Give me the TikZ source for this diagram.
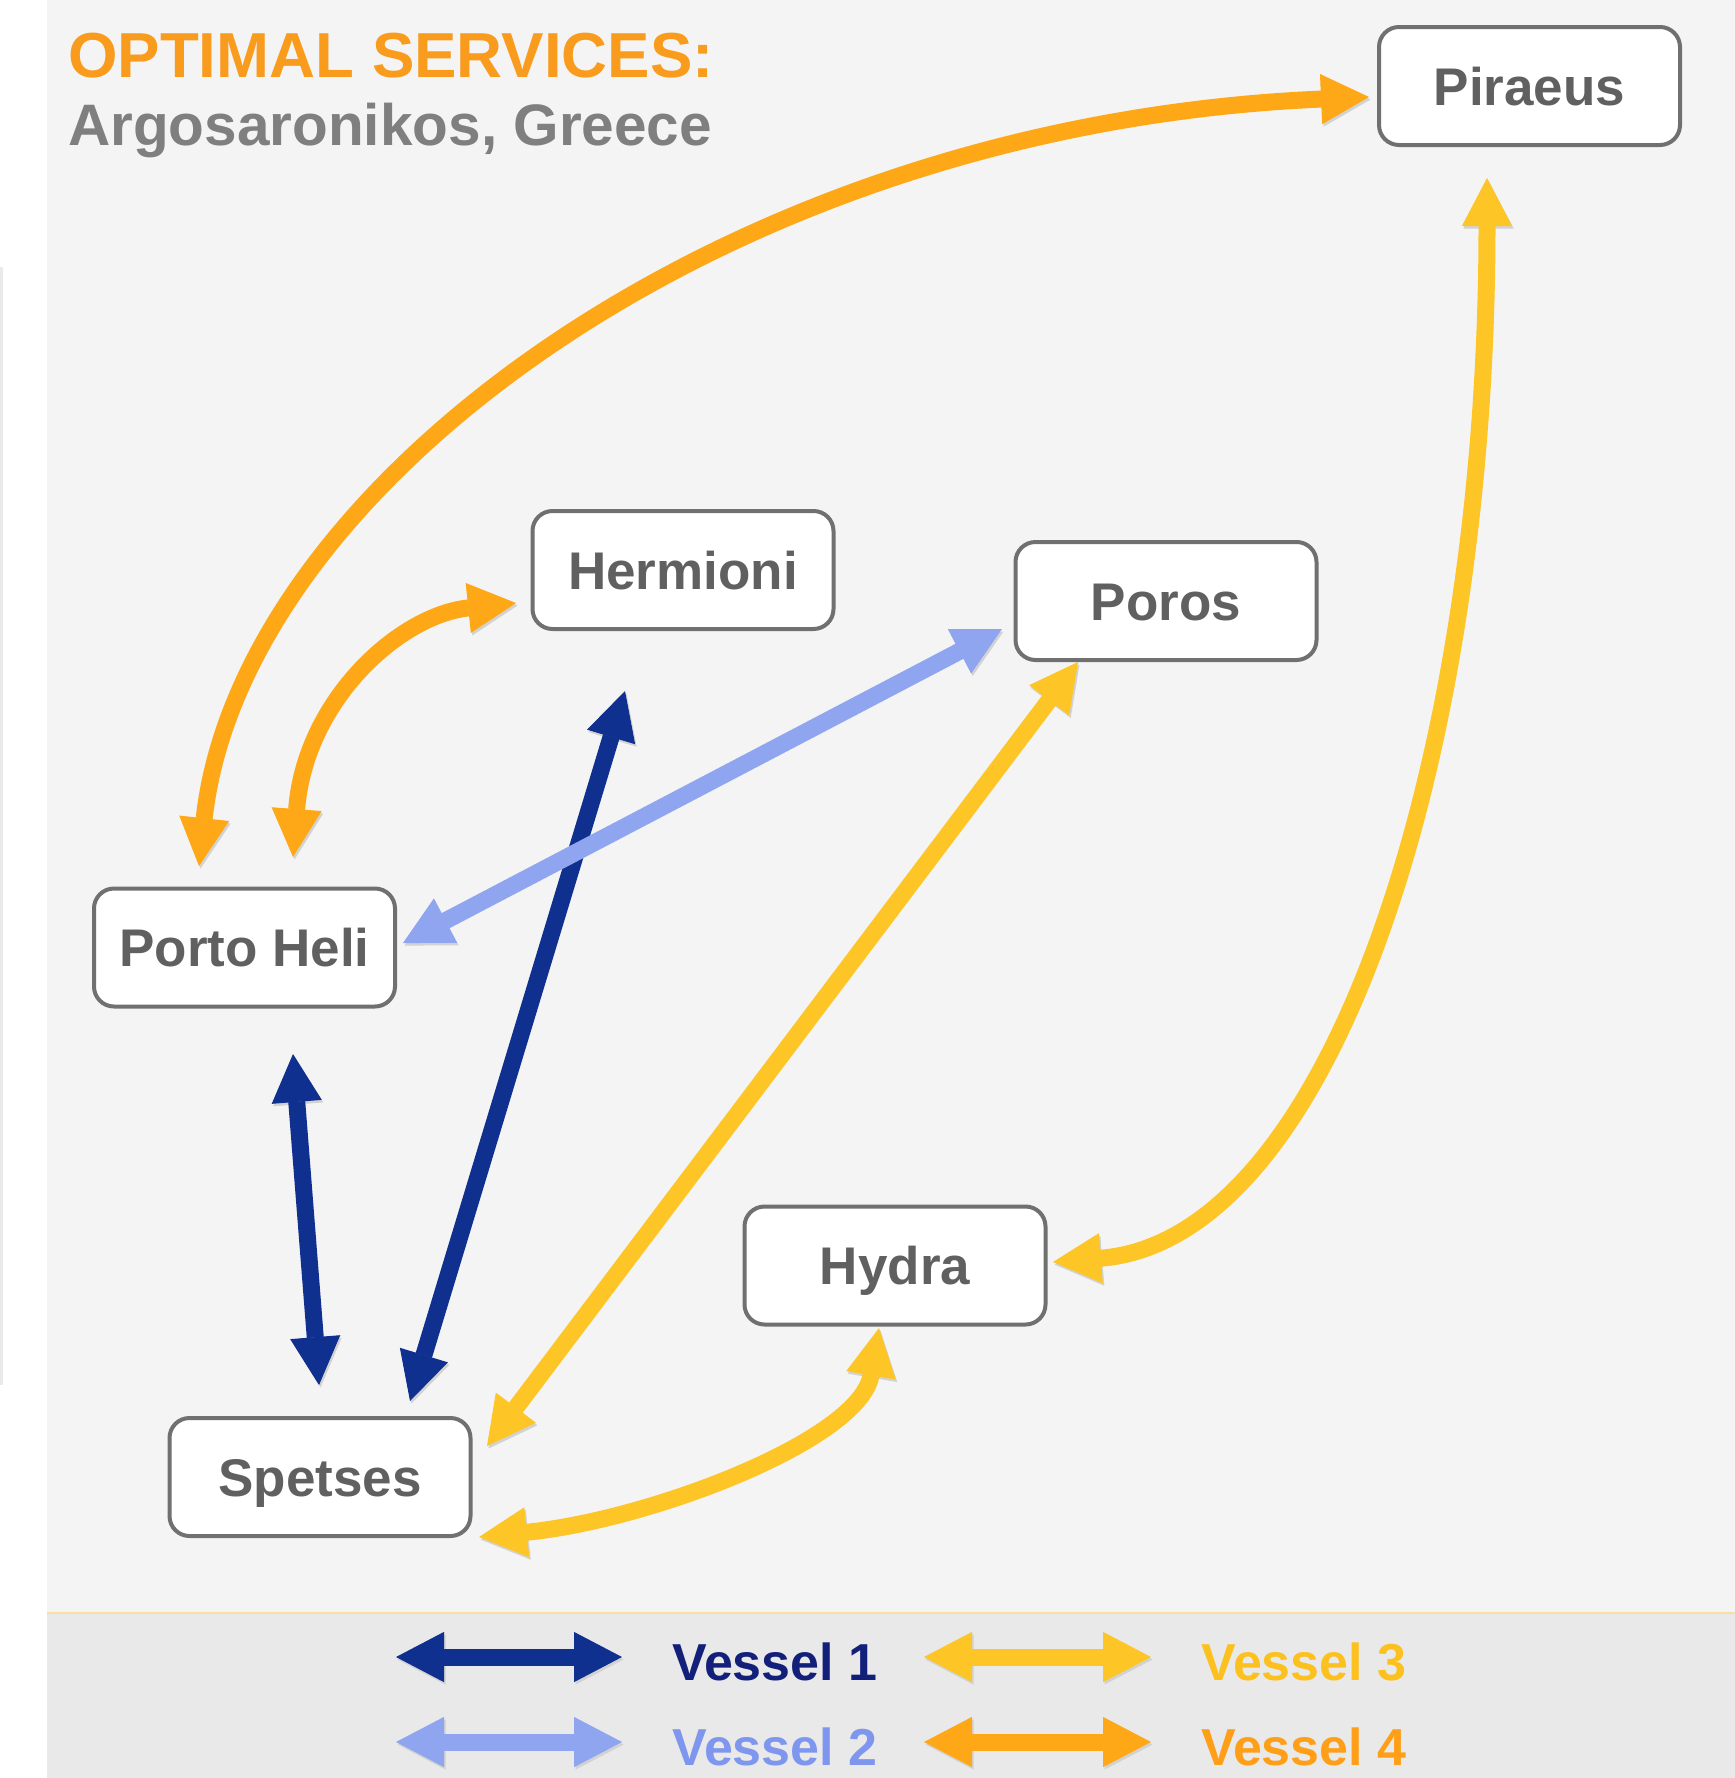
\documentclass[tikz,border=0pt]{standalone}
\usepackage{fontspec}
\setmainfont{Liberation Sans}
\usetikzlibrary{arrows.meta,calc}
\definecolor{bgmain}{HTML}{F4F4F4}
\definecolor{bglegend}{HTML}{E9E9E9}
\definecolor{sepline}{HTML}{FBDFA2}
\definecolor{edgeline}{HTML}{EAEAEA}
\definecolor{boxgray}{HTML}{707070}
\definecolor{nodetext}{HTML}{606060}
\definecolor{titleorange}{HTML}{F99B1C}
\definecolor{titlegray}{HTML}{7F7F7F}
\definecolor{shadowgray}{HTML}{D2D2D2}
\definecolor{vone}{HTML}{10308F}
\definecolor{vonetext}{HTML}{13207A}
\definecolor{vtwo}{HTML}{8FA5F0}
\definecolor{vtwotext}{HTML}{7F96EE}
\definecolor{vthree}{HTML}{FDC626}
\definecolor{vthreetext}{HTML}{FCC01F}
\definecolor{vfour}{HTML}{FFA817}
\definecolor{vfourtext}{HTML}{FF9E17}
\begin{document}
\begin{tikzpicture}[x=1pt,y=-1pt,
  place/.style={draw=boxgray, line width=4pt, fill=white, rounded corners=20pt,
    minimum width=301pt, minimum height=118pt, inner sep=0pt, text=nodetext,
    font=\fontsize{53}{60}\selectfont\bfseries, text height=38pt, text depth=0pt},
  ferry/.style={line width=17pt, >={Triangle[length=48pt,width=50pt,line width=1pt]}, <->,
    preaction={draw=shadowgray, transform canvas={shift={(1.5pt,-2.5pt)}}}},
  legendtext/.style={anchor=base west, inner sep=0pt, font=\fontsize{52}{60}\selectfont\bfseries},
  titletext/.style={anchor=base west, inner sep=0pt}]
\useasboundingbox (0,0) rectangle (1735,1778);
% backgrounds
\fill[white] (0,0) rectangle (1735,1778);
\fill[bgmain] (47,0) rectangle (1735,1613);
\fill[bglegend] (47,1613) rectangle (1735,1778);
\draw[sepline, line width=2pt] (47,1613) -- (1735,1613);
\fill[edgeline] (0,267) rectangle (2.5,1385);
% title
\node[titletext, text=titleorange, font=\fontsize{63.6}{70}\selectfont\bfseries] (t1) at (68,77) {OPTIMAL SERVICES:};
\node[titletext, text=titlegray, font=\fontsize{58.5}{66}\selectfont\bfseries] (t2) at (68,145) {Argosaronikos, Greece};
% ports
\node[place] (pir) at (1529.5,86) {Piraeus};
\node[place] (her) at (683,570) {Hermioni};
\node[place] (por) at (1166,601) {Poros};
\node[place] (ph) at (244.5,947.5) {Porto Heli};
\node[place] (hyd) at (895,1265.5) {Hydra};
\node[place] (spe) at (320,1477) {Spetses};
% Vessel 1
\draw[ferry, vone] ([shift={(48.5,106.5)}]ph.center) -- ([shift={(-1,-92)}]spe.center);
\draw[ferry, vone] ([shift={(90,-76)}]spe.center) -- ([shift={(-58,121)}]her.center);
% Vessel 2
\draw[ferry, vtwo] ([shift={(158.5,-4.5)}]ph.center) -- ([shift={(-164,28)}]por.center);
% Vessel 3
\draw[ferry, vthree] ([shift={(167,-31)}]spe.center) -- ([shift={(-88,61)}]por.center);
\draw[ferry, vthree] ([shift={(159,60)}]spe.center) .. controls (650,1520) and (860,1440) .. ([shift={(-16,62.5)}]hyd.center);
\draw[ferry, vthree] ([shift={(158,-3.5)}]hyd.center) .. controls (1330,1240) and (1487,760) .. ([shift={(-42.5,92)}]pir.center);
% Vessel 4
\draw[ferry, vfour] ([shift={(-45.5,-81.5)}]ph.center) .. controls (240,490) and (720,125) .. ([shift={(-160.5,11)}]pir.center);
\draw[ferry, vfour] ([shift={(48.5,-90.5)}]ph.center) .. controls (305,700) and (400,615) .. ([shift={(-167,33)}]her.center);
% legend
\coordinate (la1) at (396,1657); \coordinate (lb1) at (622,1657);
\coordinate (la2) at (396,1742); \coordinate (lb2) at (622,1742);
\coordinate (la3) at (924,1657); \coordinate (lb3) at (1151,1657);
\coordinate (la4) at (924,1742); \coordinate (lb4) at (1151,1742);
\draw[ferry, vone] (la1) -- (lb1);
\draw[ferry, vtwo] (la2) -- (lb2);
\draw[ferry, vthree] (la3) -- (lb3);
\draw[ferry, vfour] (la4) -- (lb4);
\node[legendtext, text=vonetext] (lt1) at (672,1680) {Vessel 1};
\node[legendtext, text=vtwotext] (lt2) at (672,1765) {Vessel 2};
\node[legendtext, text=vthreetext] (lt3) at (1201,1680) {Vessel 3};
\node[legendtext, text=vfourtext] (lt4) at (1201,1765) {Vessel 4};
\end{tikzpicture}
\end{document}
